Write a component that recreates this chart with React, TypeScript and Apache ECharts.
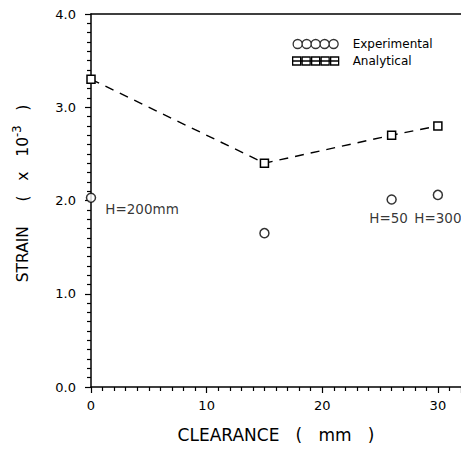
import React, { useEffect, useRef } from 'react';
import * as echarts from 'echarts';

// ---- data ----
const clearance = [0, 15, 26, 30];
const analytical = [3.3, 2.4, 2.7, 2.8];
const experimental = [2.03, 1.65, 2.01, 2.06];
const heightLabels = ['H=200mm', '', 'H=50', 'H=300'];
const legendNames = ['Experimental', 'Analytical'];

const FONT = 'DejaVu Sans';

function circlesPath(): string {
  const r = 4.5;
  let d = '';
  for (let k = 0; k < 5; k++) {
    const cx = r + k * 9;
    d += `M${cx - r},${r}a${r},${r} 0 1,0 ${2 * r},0a${r},${r} 0 1,0 ${-2 * r},0`;
  }
  return 'path://' + d;
}

function squaresPath(): string {
  let d = '';
  for (let k = 0; k < 5; k++) {
    const x = k * 9.5;
    d += `M${x},0h8v8h-8z`;
  }
  d += 'M0,4H46';
  return 'path://' + d;
}

const labelStyles: any[] = [
  { position: 'right', distance: 9, offset: [0, 11] },
  { show: false },
  { position: 'bottom', distance: 6, offset: [-3, 0] },
  { position: 'bottom', distance: 11, offset: [0, 0] },
];

export default function App() {
  const ref = useRef<HTMLDivElement>(null);
  useEffect(() => {
    if (!ref.current) return;
    const chart = echarts.init(ref.current, null, { renderer: 'svg' });
    const option: any = {
      animation: false,
      backgroundColor: '#fff',
      textStyle: { fontFamily: FONT, color: '#000' },
      grid: { left: 91, top: 14, bottom: 57, right: -4, containLabel: false },
      legend: {
        orient: 'vertical',
        left: 292,
        top: 38,
        padding: 0,
        itemGap: 5,
        itemWidth: 46,
        itemHeight: 9,
        selectedMode: false,
        align: 'left',
        textStyle: { fontFamily: FONT, fontSize: 12, color: '#000', padding: [0, 0, 0, 9] },
        data: [
          {
            name: legendNames[0],
            icon: circlesPath(),
            itemStyle: { color: 'rgba(0,0,0,0)', borderColor: '#000', borderWidth: 1.3 },
          },
          {
            name: legendNames[1],
            icon: squaresPath(),
            itemStyle: { color: 'rgba(0,0,0,0)', borderColor: '#000', borderWidth: 1.3 },
          },
        ],
      },
      xAxis: [
        {
          type: 'value',
          min: 0,
          max: 32,
          interval: 10,
          name: 'CLEARANCE   (   mm   )',
          nameLocation: 'middle',
          nameGap: 38,
          nameTextStyle: { fontFamily: FONT, fontSize: 17, color: '#000', lineHeight: 20 },
          axisLine: { show: true, onZero: false, lineStyle: { color: '#000', width: 1.5 } },
          axisTick: { show: true, length: 6, lineStyle: { color: '#000', width: 1.2 } },
          minorTick: { show: true, splitNumber: 10, length: 4, lineStyle: { color: '#000', width: 1.2 } },
          axisLabel: {
            color: '#000',
            fontFamily: FONT,
            fontSize: 13,
            margin: 12,
            showMaxLabel: false,
            formatter: (v: number) => (v % 10 === 0 ? String(v) : ''),
          },
          splitLine: { show: false },
        },
        {
          type: 'value',
          position: 'top',
          min: 0,
          max: 32,
          interval: 10,
          axisLine: { show: true, onZero: false, lineStyle: { color: '#000', width: 1.5 } },
          axisTick: { show: false },
          axisLabel: { show: false },
          splitLine: { show: false },
        },
      ],
      yAxis: {
        type: 'value',
        min: 0,
        max: 4,
        interval: 1,
        name: 'STRAIN     (   x   10{sup|-3}   )',
        nameLocation: 'middle',
        nameGap: 56,
        nameTextStyle: {
          fontFamily: FONT,
          fontSize: 15.5,
          color: '#000',
          lineHeight: 24,
          padding: [0, 0, 0, 14],
          rich: {
            sup: { fontFamily: FONT, fontSize: 11.5, lineHeight: 10, verticalAlign: 'top', color: '#000' },
          },
        },
        axisLine: { show: true, onZero: false, lineStyle: { color: '#000', width: 1.5 } },
        axisTick: { show: true, length: 6, lineStyle: { color: '#000', width: 1.2 } },
        minorTick: { show: true, splitNumber: 10, length: 4, lineStyle: { color: '#000', width: 1.2 } },
        axisLabel: {
          color: '#000',
          fontFamily: FONT,
          fontSize: 13,
          margin: 15,
          formatter: (v: number) => v.toFixed(1),
        },
        splitLine: { show: false },
      },
      series: [
        {
          name: legendNames[0],
          type: 'scatter',
          symbol: 'circle',
          symbolSize: 9,
          itemStyle: { color: '#fff', borderColor: '#000', borderWidth: 1.5 },
          label: {
            show: true,
            fontFamily: FONT,
            fontSize: 13.5,
            color: '#000',
            formatter: (p: any) => heightLabels[p.dataIndex],
          },
          data: clearance.map((x, i) => ({
            value: [x, experimental[i]],
            label: labelStyles[i],
          })),
          z: 3,
        },
        {
          name: legendNames[1],
          type: 'line',
          symbol: 'rect',
          symbolSize: 8,
          showSymbol: true,
          itemStyle: { color: '#fff', borderColor: '#000', borderWidth: 1.5 },
          lineStyle: { color: '#000', width: 1.4, type: [9, 7] },
          data: clearance.map((x, i) => [x, analytical[i]]),
          z: 3,
        },
      ],
    };
    chart.setOption(option);
    return () => chart.dispose();
  }, []);
  return (
    <div
      ref={ref}
      style={{ position: 'fixed', left: 0, top: 0, width: 461, height: 450, background: '#fff' }}
    />
  );
}
